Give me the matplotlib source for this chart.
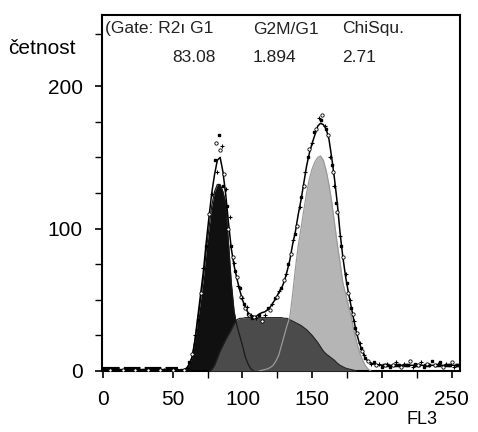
import numpy as np
import matplotlib
matplotlib.use("Agg")
import matplotlib.pyplot as plt

plt.rcParams['font.family'] = ['Liberation Sans', 'DejaVu Sans']

# ---- data (channel FL3 vs. count) ----
g1_x = np.arange(56, 110, 2)
g1_y = [0, 0.5, 2, 5, 10, 22, 36, 50, 65, 84, 100, 116, 126, 131, 131, 126, 118, 90,
        62, 42, 32, 25, 18, 10, 5, 1.5, 0]

s_x = np.arange(76, 184, 2)
s_y = [0, 1, 4, 9, 14, 18, 22, 25.5, 29, 33, 36, 37, 37, 37.5, 37.5, 37.5, 37.5, 37.5,
       37.5, 37.5, 37.5, 37.5, 37.5, 37.5, 37.5, 37.5, 37.5, 37, 37, 36, 35, 34, 33, 32,
       30.5, 29, 27, 25, 22.5, 20, 17, 14, 12, 10.5, 9, 7.5, 5.5, 4, 3, 2, 1.5, 1, 0.5, 0]

g2_x = np.arange(112, 194, 2)
g2_y = [0, 0.5, 1, 1.5, 2.5, 4, 7, 11, 18, 25, 32, 38, 54, 72, 88, 100, 113, 125, 135,
        142, 147, 150, 151, 148, 141, 131, 119, 104, 89, 76, 62, 54, 46, 38, 28, 20, 13,
        8, 4, 1.5, 0]

fit_x = [0, 10, 20, 30, 40, 50, 54] + list(range(56, 198, 2)) + list(range(200, 256, 5))
fit_y = [1, 1, 1, 1, 1, 1, 1,
         0.5, 1, 2, 5, 10, 22, 38, 54, 70, 90, 108, 125, 138, 148, 150, 140, 124, 104,
         86, 74, 65, 57, 50, 45, 41, 39, 38, 38.5, 40, 41, 41.5, 43, 45, 48, 51, 55, 58,
         63, 70, 78, 89, 98, 110, 120, 132, 144, 153, 160, 166, 172, 174, 173, 170, 163,
         150, 135, 118, 97, 80, 66, 55, 45, 35, 26, 19, 14, 9, 7, 5.5, 5, 4.5,
         4, 4, 4, 4, 4, 4, 4, 4, 4, 4, 4, 4]

data_x = [2, 5, 8, 11, 14, 17, 20, 23, 26, 29, 32, 35, 38, 41, 44, 47, 50, 53, 56,
          58, 60, 62, 64, 66, 68, 70, 72, 74, 76, 78, 80, 81, 82, 83, 84, 85, 86, 87, 88,
          89, 90, 91, 92, 93, 94, 95, 96, 97, 98, 99, 100, 101, 102, 103, 104, 105, 106,
          107, 108, 110, 112, 114, 116, 118, 120, 121, 123, 125, 126, 128, 130, 131, 133,
          135, 136, 138, 139, 141, 142, 144, 145, 147, 148, 150, 151, 153, 155, 156, 157,
          159, 160, 161, 163, 164, 165, 166, 167, 168, 170, 171, 172, 174, 175, 176, 177,
          178, 179, 180, 181, 182, 184, 185, 186, 187, 188, 190, 192, 194, 196, 198, 200,
          202, 204, 206, 208, 210, 212, 214, 216, 218, 220, 222, 224, 226, 228, 230, 232,
          234, 236, 238, 240, 242, 244, 246, 248, 250, 252, 254]
data_y = [1, 1, 1, 1, 0.5, 1, 1, 1, 0.5, 1, 1, 1, 1, 1, 0.5, 1, 1, 1, 1,
          1, 2, 6, 12, 25, 36, 55, 72, 88, 110, 124, 148, 160, 140, 166, 155, 158, 130,
          138, 128, 116, 100, 108, 88, 80, 76, 70, 66, 60, 58, 52, 51, 47, 44, 45, 40, 39,
          39, 37, 38, 37, 39, 35, 39, 44, 43, 47, 51, 52, 56, 58, 64, 68, 75, 82, 92, 96,
          102, 115, 122, 130, 140, 150, 156, 160, 168, 170, 178, 176, 180, 172, 170, 166,
          150, 145, 140, 130, 118, 112, 95, 88, 80, 68, 62, 55, 50, 44, 40, 35, 30, 27,
          20, 16, 14, 11, 9, 7, 5, 6, 4, 5, 3, 4, 5, 3, 4, 6, 4, 3, 5, 4, 7, 3, 5, 4, 6,
          3, 5, 4, 7, 4, 5, 6, 3, 5, 4, 6, 3, 4]

x_ticks = [0, 50, 100, 150, 200, 250]
y_ticks = [0, 100, 200]
header_row1 = ["(Gate: R2ı G1", "G2M/G1", "ChiSqu."]
header_row2 = ["83.08", "1.894", "2.71"]

# ---- figure ----
fig = plt.figure(figsize=(4.78, 4.32), dpi=100)
ax = fig.add_axes([102 / 478, 1 - 371 / 432, (460 - 102) / 478, (371 - 15) / 432])

ax.fill_between(g1_x, g1_y, color='#101010', lw=0, zorder=1)
ax.fill_between(g2_x, g2_y, color='#b5b5b5', lw=0, zorder=2)
ax.fill_between(s_x, s_y, color='#4b4b4b', lw=0, zorder=3)
ax.plot(s_x, s_y, color='#222222', lw=0.8, zorder=3.5)
ax.plot(g1_x, g1_y, color='#1a1a1a', lw=0.9, zorder=4)
ax.plot(g2_x, g2_y, color='#9a9a9a', lw=0.9, zorder=4)
ax.plot(fit_x, fit_y, color='black', lw=1.1, zorder=5)

# baseline of data drawn as thick segmented line (left) and dotted tail (right)
ax.plot(fit_x[:7], [1.3] * 7, color='black', lw=3, ls=(0, (4, 1)), zorder=5)
ax.plot(fit_x[-12:], fit_y[-12:], color='black', lw=2.5, ls=(0, (2, 1)), zorder=5)

dx = np.array(data_x)
dy = np.array(data_y)
idx = np.arange(len(dx))
ax.plot(dx[idx % 3 == 0], dy[idx % 3 == 0], ls='none', marker='s', ms=1.8,
        color='black', zorder=6)
ax.plot(dx[idx % 3 == 1], dy[idx % 3 == 1], ls='none', marker='o', ms=2.4,
        mfc='white', mec='black', mew=0.6, zorder=6)
ax.plot(dx[idx % 3 == 2], dy[idx % 3 == 2], ls='none', marker='+', ms=3,
        mew=0.8, color='black', zorder=6)

ax.set_xlim(-0.7, 256)
ax.set_ylim(0, 250)
ax.set_xticks(x_ticks)
ax.set_xticks([75, 125, 175, 225], minor=True)
ax.set_yticks(y_ticks)
ax.set_yticks([25, 50, 75, 125, 150, 175, 237], minor=True)
ax.tick_params(axis='both', which='both', direction='out', length=5, width=1.2,
               labelsize=15, color='black')
ax.tick_params(axis='x', pad=9)
ax.tick_params(axis='y', pad=9)
ax.tick_params(which='minor', width=1.0)
for sp in ax.spines.values():
    sp.set_linewidth(1.5)
    sp.set_color('black')

fig.text(8 / 478, 1 - 48 / 432, "četnost", fontsize=15, ha='left', va='center')
fig.text(422 / 478, 1 - 420 / 432, "FL3", fontsize=13, ha='center', va='center')

hx1 = [105, 253, 342]
for x, t in zip(hx1, header_row1):
    fig.text(x / 478, 1 - 29 / 432, t, fontsize=12.5, color='#222222', ha='left', va='center')
fig.text(216 / 478, 1 - 58 / 432, header_row2[0], fontsize=12.5, color='#222222',
         ha='right', va='center')
fig.text(253 / 478, 1 - 58 / 432, header_row2[1], fontsize=12.5, color='#222222',
         ha='left', va='center')
fig.text(342 / 478, 1 - 58 / 432, header_row2[2], fontsize=12.5, color='#222222',
         ha='left', va='center')

fig.savefig("out.png", dpi=100)
